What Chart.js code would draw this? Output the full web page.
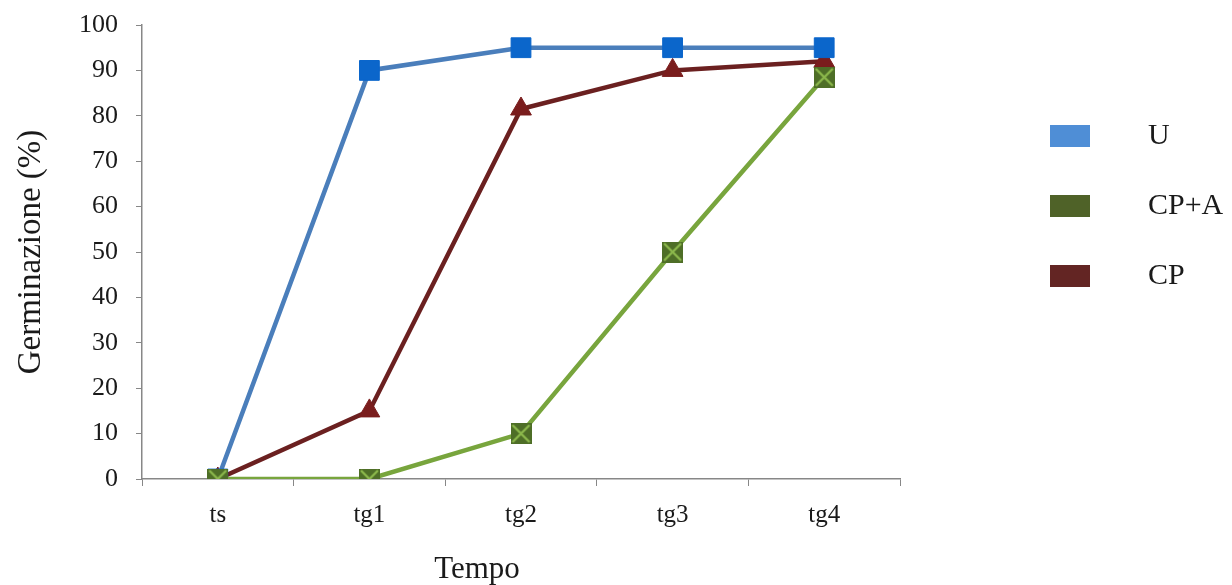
<!DOCTYPE html>
<html>
<head>
<meta charset="utf-8">
<script src="https://cdn.jsdelivr.net/npm/chart.js@4.4.0/dist/chart.umd.min.js"></script>
<style>
  html, body { margin: 0; padding: 0; background: #fff; }
  #wrap { width: 1232px; height: 585px; }
</style>
</head>
<body>
<div id="wrap"><canvas id="germChart"></canvas></div>
<script>
// germination over time for the three treatments
const tempi = ['ts', 'tg1', 'tg2', 'tg3', 'tg4'];
const serieU = [0, 90, 95, 95, 95];
const serieCPA = [0, 0, 10, 50, 88.5];
const serieCP = [0, 15, 81.5, 90, 92];
const yTicks = [0, 10, 20, 30, 40, 50, 60, 70, 80, 90, 100];

const SERIF = '"Liberation Serif", "Times New Roman", serif';
const AXIS_GREY = '#878787';
const TEXT = '#1a1a1a';

// legend swatches (legend is drawn by a small plugin on the right)
const legendItems = [
    { text: 'U', color: '#4f8ed6' },
    { text: 'CP+A', color: '#4f6228' },
    { text: 'CP', color: '#632523' }
];

// square marker with a cross for CP+A
function crossSquare() {
    const s = 21;
    const c = document.createElement('canvas');
    c.width = s; c.height = s;
    const g = c.getContext('2d');
    g.fillStyle = '#4e6e27';
    g.fillRect(0, 0, s, s);
    g.strokeStyle = '#8cb84c';
    g.lineWidth = 2.4;
    g.beginPath();
    g.moveTo(2, 2); g.lineTo(s - 2, s - 2);
    g.moveTo(s - 2, 2); g.lineTo(2, s - 2);
    g.stroke();
    return c;
}

// side legend plus the x axis title, which sits left of the axis centre
const extraText = {
    id: 'extraText',
    afterDraw(chart) {
        const ctx = chart.ctx;
        ctx.save();
        ctx.font = '30px ' + SERIF;
        ctx.textBaseline = 'middle';
        ctx.textAlign = 'left';
        legendItems.forEach((it, i) => {
            const cy = 136 + i * 70;
            ctx.fillStyle = it.color;
            ctx.fillRect(1050, cy - 11, 40, 22);
            ctx.fillStyle = TEXT;
            ctx.fillText(it.text, 1148, cy);
        });
        ctx.font = '31px ' + SERIF;
        ctx.textAlign = 'center';
        ctx.textBaseline = 'alphabetic';
        ctx.fillText('Tempo', 477, 578);
        ctx.restore();
    }
};

new Chart(document.getElementById('germChart'), {
    type: 'line',
    data: {
        labels: tempi,
        datasets: [
            {
                label: 'CP+A',
                data: serieCPA,
                borderColor: '#78a53d',
                backgroundColor: '#4e6e27',
                borderWidth: 4.5,
                pointStyle: crossSquare(),
                tension: 0
            },
            {
                label: 'U',
                data: serieU,
                borderColor: '#4a7ebb',
                backgroundColor: '#0b66cb',
                borderWidth: 4.5,
                pointStyle: 'rect',
                pointRadius: 14,
                pointBorderColor: '#0b66cb',
                pointBorderWidth: 1,
                tension: 0
            },
            {
                label: 'CP',
                data: serieCP,
                borderColor: '#6b2020',
                backgroundColor: '#7a1d1d',
                borderWidth: 4.5,
                pointStyle: 'triangle',
                pointRadius: 12,
                pointBorderColor: '#7a1d1d',
                pointBorderWidth: 1,
                tension: 0
            }
        ]
    },
    options: {
        responsive: true,
        maintainAspectRatio: false,
        animation: false,
        layout: { padding: { left: 0, top: 25, right: 332, bottom: 0 } },
        plugins: {
            legend: { display: false },
            tooltip: { enabled: false }
        },
        scales: {
            x: {
                type: 'category',
                offset: true,
                afterFit(scale) { scale.height = 106; },
                grid: {
                    offset: true,
                    drawOnChartArea: false,
                    drawTicks: true,
                    tickLength: 7,
                    color: AXIS_GREY
                },
                border: { color: AXIS_GREY, width: 1.5 },
                ticks: {
                    color: TEXT,
                    padding: 14,
                    font: { family: SERIF, size: 25 }
                },
                title: { display: false }
            },
            y: {
                min: 0,
                max: 100,
                afterFit(scale) {
                    scale.width = 142;
                    // tick padding would otherwise push the plot down
                    scale.paddingTop = 0;
                    scale.paddingBottom = 0;
                },
                afterBuildTicks(scale) { scale.ticks = yTicks.map(v => ({ value: v })); },
                grid: {
                    drawOnChartArea: false,
                    drawTicks: true,
                    tickLength: 6,
                    color: AXIS_GREY
                },
                border: { color: AXIS_GREY, width: 1.5 },
                ticks: {
                    color: TEXT,
                    padding: 18,
                    font: { family: SERIF, size: 26 }
                },
                title: {
                    display: true,
                    text: 'Germinazione (%)',
                    color: TEXT,
                    padding: { top: 12, bottom: 0 },
                    font: { family: SERIF, size: 33 }
                }
            }
        }
    },
    plugins: [extraText]
});
</script>
</body>
</html>
